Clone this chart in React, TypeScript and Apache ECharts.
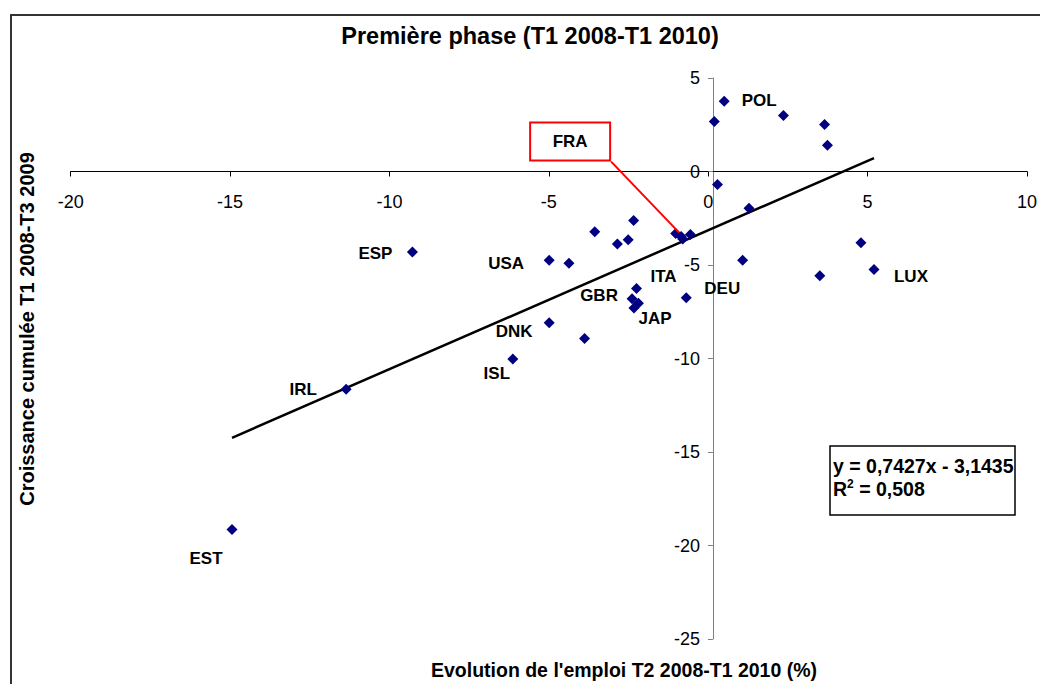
import React, { useEffect, useRef } from "react";
import * as echarts from "echarts";

// ---- Data ----
const countryNames: string[] = [
  "ESP", "USA", "", "", "", "", "", "", "FRA", "", "",
  "ITA", "GBR", "", "JAP", "DEU", "DNK", "", "ISL",
  "", "POL", "", "", "", "", "", "", "", "LUX", "", "IRL", "EST",
];
const xValues: number[] = [
  -9.28, -4.99, -4.37, -3.56, -2.85, -2.51, -2.34, -1.02, -0.85, -0.8, -0.56,
  -2.25, -2.39, -2.19, -2.33, -0.69, -4.99, -3.88, -6.13,
  0.19, 0.5, 2.36, 0.29, 1.28, 1.08, 3.65, 3.74, 4.79, 5.2, 3.5, -11.36, -14.94,
];
const yValues: number[] = [
  -4.31, -4.74, -4.9, -3.22, -3.88, -3.65, -2.62, -3.32, -3.48, -3.61, -3.37,
  -6.26, -6.81, -7.04, -7.3, -6.75, -8.09, -8.93, -10.03,
  2.67, 3.76, 2.99, -0.7, -1.96, -4.74, 2.51, 1.41, -3.81, -5.24, -5.58, -11.64, -19.14,
];
const trendSlope = 0.7427;
const trendIntercept = -3.1435;
const rSquared = 0.508;
const xTicks = { min: -20, max: 10, interval: 5 };
const yTicks = { min: -25, max: 5, interval: 5 };

const chartTitle = "Première phase (T1 2008-T1 2010)";
const xAxisTitle = "Evolution de l'emploi T2 2008-T1 2010 (%)";
const yAxisTitle = "Croissance cumulée T1 2008-T3 2009";

// ---- Layout ----
const W = 1040;
const H = 684;
const GRID = { left: 70.7, right: 6, top: 78, bottom: 45 };

// Label placement (pixel offsets from each marker)
const labelOffsets: Record<string, [number, number]> = {
  ESP: [-37, 1],
  USA: [-43, 3],
  ITA: [27, -12],
  GBR: [-33, -3],
  JAP: [21, 10],
  DEU: [36, -9],
  DNK: [-35, 9],
  ISL: [-16, 14],
  POL: [35, -1],
  LUX: [37, 7],
  IRL: [-43, 0],
  EST: [-26, 29],
  FRA: [-111, -95],
};
const FRA_BOX = { w: 82, h: 40 };

const FONT = '"Liberation Sans", Arial, Helvetica, sans-serif';
const fmt = (v: number) => String(v).replace(".", ",");

export default function App() {
  const ref = useRef<HTMLDivElement>(null);

  useEffect(() => {
    if (!ref.current) return;
    const chart = echarts.init(ref.current, undefined, { renderer: "svg" });

    const gridW = W - GRID.left - GRID.right;
    const gridH = H - GRID.top - GRID.bottom;
    // move axes so they cross at (0,0)
    const xAxisOffset = -gridH * ((0 - yTicks.min) / (yTicks.max - yTicks.min));
    const yAxisOffset = -gridW * ((0 - xTicks.min) / (xTicks.max - xTicks.min));

    const scatterData = xValues.map((x, i) => {
      const name = countryNames[i];
      const item: any = { value: [x, yValues[i]], name };
      if (name === "FRA") {
        item.label = {
          show: true,
          borderColor: "#ff0000",
          borderWidth: 2,
          backgroundColor: "#ffffff",
          width: FRA_BOX.w - 4,
          height: FRA_BOX.h - 4,
          align: "center",
          verticalAlign: "middle",
          lineHeight: FRA_BOX.h - 4,
        };
      }
      return item;
    });

    const xMin = Math.min(...xValues);
    const xMax = Math.max(...xValues);
    const trendData = [
      [xMin, trendSlope * xMin + trendIntercept],
      [xMax, trendSlope * xMax + trendIntercept],
    ];

    const eqText = `y = ${fmt(trendSlope)}x - ${fmt(Math.abs(trendIntercept))}`;

    chart.setOption({
      animation: false,
      backgroundColor: "#ffffff",
      grid: { ...GRID, containLabel: false },
      xAxis: {
        type: "value",
        position: "bottom",
        offset: xAxisOffset,
        min: xTicks.min,
        max: xTicks.max,
        interval: xTicks.interval,
        axisLine: { onZero: false, lineStyle: { color: "#000000", width: 1 } },
        axisTick: { show: true, inside: false, length: 5, lineStyle: { color: "#000000" } },
        axisLabel: { color: "#000000", fontSize: 18, fontFamily: FONT, margin: 21 },
        splitLine: { show: false },
      },
      yAxis: {
        type: "value",
        position: "left",
        offset: yAxisOffset,
        min: yTicks.min,
        max: yTicks.max,
        interval: yTicks.interval,
        axisLine: { onZero: false, lineStyle: { color: "#808080", width: 1 } },
        axisTick: { show: true, inside: false, length: 5, lineStyle: { color: "#808080" } },
        axisLabel: { color: "#000000", fontSize: 18, fontFamily: FONT, margin: 13 },
        splitLine: { show: false },
      },
      series: [
        {
          type: "line",
          data: trendData,
          symbol: "none",
          lineStyle: { color: "#000000", width: 2.5 },
          z: 2,
          silent: true,
        },
        {
          type: "scatter",
          data: scatterData,
          symbol: "diamond",
          symbolSize: 11,
          itemStyle: { color: "#000080", opacity: 1 },
          z: 3,
          label: {
            show: true,
            position: "inside",
            formatter: (p: any) => countryNames[p.dataIndex] || "",
            color: "#000000",
            fontSize: 17,
            fontWeight: "bold",
            fontFamily: FONT,
          },
          labelLayout: (p: any) => {
            const o = labelOffsets[countryNames[p.dataIndex]];
            return o ? { dx: o[0], dy: o[1] } : {};
          },
        },
      ],
      graphic: [
        {
          type: "rect",
          left: 8.5,
          top: 12.5,
          shape: { width: 1100, height: 720 },
          style: { fill: "none", stroke: "#333333", lineWidth: 2 },
          z: -10,
          silent: true,
        },
        {
          type: "text",
          x: 530,
          y: 36,
          style: {
            text: chartTitle,
            fontSize: 23.5,
            fontWeight: "bold",
            fontFamily: FONT,
            fill: "#000000",
            align: "center",
            verticalAlign: "middle",
          },
        },
        {
          type: "text",
          x: 624,
          y: 670,
          style: {
            text: xAxisTitle,
            fontSize: 19.5,
            fontWeight: "bold",
            fontFamily: FONT,
            fill: "#000000",
            align: "center",
            verticalAlign: "middle",
          },
        },
        {
          type: "text",
          x: 27,
          y: 329,
          rotation: Math.PI / 2,
          style: {
            text: yAxisTitle,
            fontSize: 20,
            fontWeight: "bold",
            fontFamily: FONT,
            fill: "#000000",
            align: "center",
            verticalAlign: "middle",
          },
        },
        {
          type: "rect",
          shape: { x: 830, y: 446, width: 185, height: 69 },
          style: { fill: "#ffffff", stroke: "#000000", lineWidth: 1.5 },
          z: 10,
        },
        {
          type: "text",
          x: 833,
          y: 466,
          z: 11,
          style: {
            text: eqText,
            fontSize: 19.5,
            fontWeight: "bold",
            fontFamily: FONT,
            fill: "#000000",
            align: "left",
            verticalAlign: "middle",
          },
        },
        {
          type: "text",
          x: 833,
          y: 489,
          z: 11,
          style: {
            text: `{b|R}{s|2}{b| = ${fmt(rSquared)}}`,
            align: "left",
            verticalAlign: "middle",
            rich: {
              b: { fontSize: 19.5, fontWeight: "bold", fontFamily: FONT, fill: "#000000", lineHeight: 22 },
              s: {
                fontSize: 12,
                fontWeight: "bold",
                fontFamily: FONT,
                fill: "#000000",
                lineHeight: 22,
                padding: [0, 0, 10, 0],
              },
            },
          },
        },
      ],
    });

    // Leader line from the FRA call-out box to its marker (positions from the chart's own scales)
    const fraIdx = countryNames.indexOf("FRA");
    if (fraIdx >= 0) {
      const p = chart.convertToPixel({ seriesIndex: 1 }, [xValues[fraIdx], yValues[fraIdx]]) as number[];
      const o = labelOffsets.FRA;
      const corner = [p[0] + o[0] + FRA_BOX.w / 2, p[1] + o[1] + FRA_BOX.h / 2];
      chart.setOption({
        graphic: [
          {
            type: "line",
            id: "fraLeader",
            shape: { x1: corner[0], y1: corner[1], x2: p[0] - 2, y2: p[1] - 4 },
            style: { stroke: "#ff0000", lineWidth: 2 },
            z: 20,
          },
        ],
      });
    }

    return () => chart.dispose();
  }, []);

  return (
    <div
      ref={ref}
      style={{ position: "fixed", left: 0, top: 0, width: W, height: H, background: "#fff" }}
    />
  );
}
